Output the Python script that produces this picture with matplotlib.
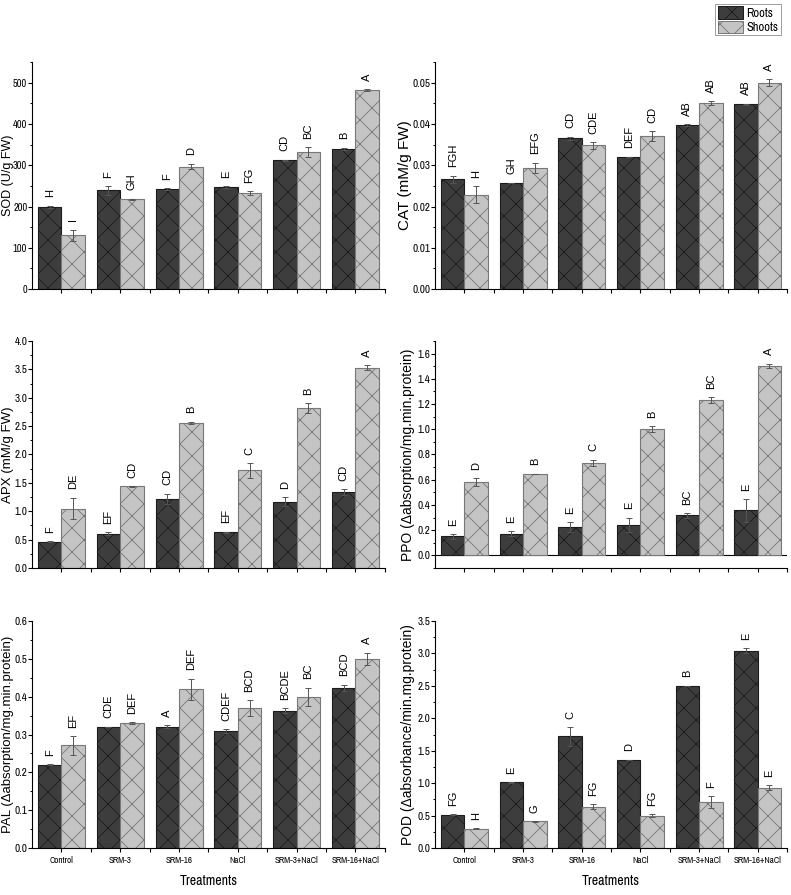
import numpy as np
import matplotlib.pyplot as plt
from matplotlib.patches import Patch
from matplotlib.ticker import MultipleLocator
from matplotlib import font_manager as fm

# figure is drawn at 72 dpi so the hatch diamonds come out small; S scales point sizes
S = 100 / 72

plt.rcParams['font.family'] = ['Liberation Sans', 'DejaVu Sans']
plt.rcParams['hatch.linewidth'] = 0.6 * S

narrow = None
for cand in ['Liberation Sans Narrow', 'Arial Narrow', 'Archivo Narrow', 'PT Sans Narrow', 'Roboto Condensed']:
    try:
        fm.findfont(fm.FontProperties(family=cand), fallback_to_default=False)
        narrow = [cand, 'Liberation Sans', 'DejaVu Sans']
        break
    except ValueError:
        pass
if narrow is None:
    narrow = ['Liberation Sans', 'DejaVu Sans']
    tick_scale = 0.8
else:
    tick_scale = 1.0

treatments = ['Control', 'SRM-3', 'SRM-16', 'NaCl', 'SRM-3+NaCl', 'SRM-16+NaCl']

# SOD (U/g FW)
sod_roots = [199, 239, 242, 247, 312, 340]
sod_roots_err = [3, 10, 2, 3, 2, 3]
sod_shoots = [130, 218, 297, 233, 332, 483]
sod_shoots_err = [14, 1, 7, 5, 12, 2]
sod_roots_let = ['H', 'F', 'F', 'E', 'CD', 'B']
sod_shoots_let = ['I', 'GH', 'D', 'FG', 'BC', 'A']

# CAT (mM/g FW)
cat_roots = [0.0266, 0.0257, 0.0365, 0.0320, 0.0398, 0.0448]
cat_roots_err = [0.0009, 0.0001, 0.0004, 0.0001, 0.0002, 0.0001]
cat_shoots = [0.0229, 0.0294, 0.0348, 0.0371, 0.0451, 0.0500]
cat_shoots_err = [0.0020, 0.0012, 0.0008, 0.0011, 0.0004, 0.0008]
cat_roots_let = ['FGH', 'GH', 'CD', 'DEF', 'AB', 'AB']
cat_shoots_let = ['H', 'EFG', 'CDE', 'CD', 'AB', 'A']

# APX (mM/g FW)
apx_roots = [0.465, 0.606, 1.22, 0.63, 1.165, 1.34]
apx_roots_err = [0.005, 0.02, 0.09, 0.01, 0.08, 0.05]
apx_shoots = [1.047, 1.44, 2.56, 1.72, 2.82, 3.53]
apx_shoots_err = [0.19, 0.005, 0.02, 0.13, 0.09, 0.04]
apx_roots_let = ['F', 'EF', 'CD', 'EF', 'D', 'CD']
apx_shoots_let = ['DE', 'CD', 'B', 'C', 'B', 'A']

# PPO
ppo_roots = [0.151, 0.172, 0.222, 0.243, 0.317, 0.357]
ppo_roots_err = [0.018, 0.02, 0.04, 0.055, 0.018, 0.09]
ppo_shoots = [0.582, 0.645, 0.733, 1.002, 1.232, 1.502]
ppo_shoots_err = [0.03, 0.003, 0.025, 0.025, 0.02, 0.018]
ppo_roots_let = ['E', 'E', 'E', 'E', 'BC', 'E']
ppo_shoots_let = ['D', 'B', 'C', 'B', 'BC', 'A']

# PAL
pal_roots = [0.22, 0.32, 0.32, 0.31, 0.363, 0.424]
pal_roots_err = [0.001, 0.001, 0.004, 0.005, 0.007, 0.008]
pal_shoots = [0.271, 0.33, 0.42, 0.37, 0.40, 0.50]
pal_shoots_err = [0.025, 0.003, 0.028, 0.02, 0.024, 0.016]
pal_roots_let = ['F', 'CDE', 'A', 'CDEF', 'BCDE', 'BCD']
pal_shoots_let = ['EF', 'DEF', 'DEF', 'BCD', 'BC', 'A']

# POD
pod_roots = [0.512, 1.015, 1.72, 1.358, 2.50, 3.04]
pod_roots_err = [0.01, 0.005, 0.14, 0.005, 0.005, 0.04]
pod_shoots = [0.297, 0.41, 0.64, 0.497, 0.707, 0.928]
pod_shoots_err = [0.005, 0.005, 0.04, 0.02, 0.09, 0.04]
pod_roots_let = ['FG', 'E', 'C', 'D', 'B', 'E']
pod_shoots_let = ['H', 'G', 'FG', 'FG', 'F', 'E']

dark = '#3d3d3d'
dark_edge = '#1c1c1c'
light = '#c4c4c4'
light_edge = '#787878'

fig = plt.figure(figsize=(791 / 72, 895 / 72), dpi=72)

# rect, ylabel, label size, label right edge (px left of spine), tick size, ylim, major, minor, format, data..., bottom row
panels = [
    ([0.0405, 0.677, 0.446, 0.2536], 'SOD (U/g FW)', 9, 18.5, 7.5, (0, 550), 100, 50, '%d',
     sod_roots, sod_roots_err, sod_shoots, sod_shoots_err, sod_roots_let, sod_shoots_let, False),
    ([0.550, 0.677, 0.445, 0.2536], 'CAT (mM/g FW)', 11, 23, 8, (0, 0.055), 0.01, 0.005, '%.2f',
     cat_roots, cat_roots_err, cat_shoots, cat_shoots_err, cat_roots_let, cat_shoots_let, False),
    ([0.0405, 0.3654, 0.446, 0.2536], 'APX (mM/g FW)', 9.5, 18, 8, (0, 4.0), 0.5, 0.25, '%.1f',
     apx_roots, apx_roots_err, apx_shoots, apx_shoots_err, apx_roots_let, apx_shoots_let, False),
    ([0.550, 0.3654, 0.445, 0.2536], 'PPO (\u0394absorption/mg.min.protein)', 10, 20, 8, (-0.1, 1.7), 0.2, 0.1, '%.1f',
     ppo_roots, ppo_roots_err, ppo_shoots, ppo_shoots_err, ppo_roots_let, ppo_shoots_let, False),
    ([0.0405, 0.0525, 0.446, 0.2536], 'PAL (\u0394absorption/mg.min.protein)', 9.5, 18, 8, (0, 0.6), 0.1, 0.05, '%.1f',
     pal_roots, pal_roots_err, pal_shoots, pal_shoots_err, pal_roots_let, pal_shoots_let, True),
    ([0.550, 0.0525, 0.445, 0.2536], 'POD (\u0394absorbance/min.mg.protein)', 10, 20, 8, (0, 3.5), 0.5, 0.25, '%.1f',
     pod_roots, pod_roots_err, pod_shoots, pod_shoots_err, pod_roots_let, pod_shoots_let, True),
]

x = np.arange(len(treatments))
w = 0.4

for (pos, ylab, lab_fs, lab_off, tick_fs, ylim, major, minor, fmt, r, re, s, se, rl, sl, bottom) in panels:
    ax = fig.add_axes(pos)
    ax.bar(x - w / 2, r, w, color=dark, edgecolor=dark_edge, hatch='x', linewidth=0.8 * S, zorder=2)
    ax.bar(x + w / 2, s, w, color=light, edgecolor=light_edge, hatch='x', linewidth=0.8 * S, zorder=2)
    ax.errorbar(x - w / 2, r, yerr=re, fmt='none', ecolor='#555555', elinewidth=0.7 * S,
                capsize=2 * S, capthick=0.7 * S, zorder=3)
    ax.errorbar(x + w / 2, s, yerr=se, fmt='none', ecolor='#555555', elinewidth=0.7 * S,
                capsize=2 * S, capthick=0.7 * S, zorder=3)
    for xi, v, e, t in zip(x - w / 2, r, re, rl):
        ax.annotate(t, (xi, v + e), xytext=(0, 6 * S), textcoords='offset points', rotation=90,
                    ha='center', va='bottom', fontsize=8 * S)
    for xi, v, e, t in zip(x + w / 2, s, se, sl):
        ax.annotate(t, (xi, v + e), xytext=(0, 6 * S), textcoords='offset points', rotation=90,
                    ha='center', va='bottom', fontsize=8 * S)
    if ylim[0] < 0:
        ax.axhline(0, color='black', linewidth=0.8 * S, zorder=1)

    ax.set_xlim(-0.5, 5.5)
    ax.set_ylim(*ylim)
    ax.yaxis.set_minor_locator(MultipleLocator(minor))
    ticks = np.arange(0, ylim[1] + 1e-9, major)
    ax.set_yticks(ticks)
    ax.set_yticklabels([fmt % t for t in ticks], family=narrow, fontsize=tick_fs * tick_scale * S)
    ax.set_xticks(x)
    ax.set_xticks(x + 0.5, minor=True)
    ax.tick_params(axis='both', which='major', length=2.9 * S, width=0.8 * S, direction='out')
    ax.tick_params(axis='y', which='minor', length=1.8 * S, width=0.7 * S, direction='out')
    ax.tick_params(axis='x', which='minor', length=2.9 * S, width=0.8 * S, direction='out')
    ax.tick_params(axis='y', pad=0.5 * S)
    for sp in ['top', 'right']:
        ax.spines[sp].set_visible(False)
    for sp in ['left', 'bottom']:
        ax.spines[sp].set_linewidth(0.8 * S)
    ax.set_ylabel(ylab, fontsize=lab_fs * S)
    ax_w = pos[2] * 791
    ax.yaxis.set_label_coords(-lab_off / ax_w, 0.5)
    if bottom:
        ax.set_xticklabels(treatments, family=narrow, fontsize=6.5 * S, fontweight='bold')
        ax.set_xlabel('Treatments', family=narrow, fontsize=10 * S, labelpad=7 * S)
    else:
        ax.set_xticklabels([])

handles = [Patch(facecolor=dark, edgecolor=dark_edge, hatch='x', label='Roots'),
           Patch(facecolor=light, edgecolor=light_edge, hatch='x', label='Shoots')]
fig.legend(handles=handles, loc='upper left', bbox_to_anchor=(715 / 791, 1 - 4 / 895),
           prop={'family': narrow, 'size': 9 * S}, frameon=True, fancybox=False, edgecolor='#888888',
           handlelength=2.0, handleheight=1.1, borderpad=0.2, labelspacing=0.15, handletextpad=0.3,
           borderaxespad=0)

fig.savefig('out.png', dpi=72)
